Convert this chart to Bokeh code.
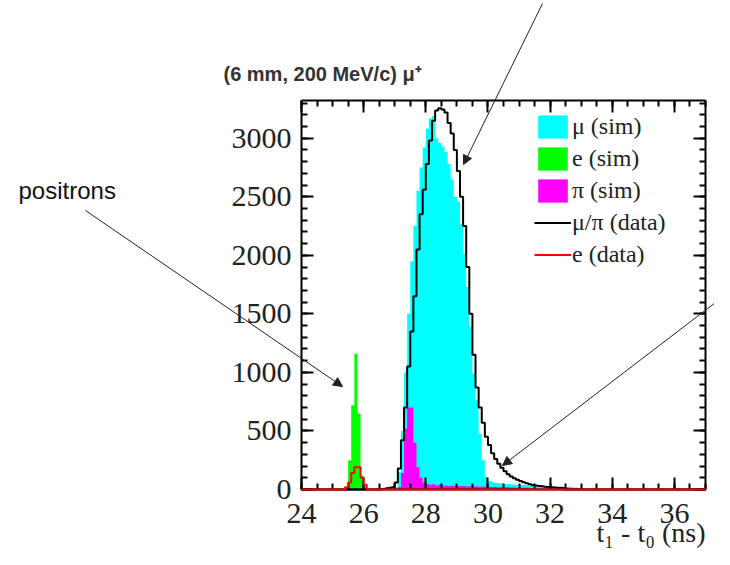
import numpy as np
from bokeh.plotting import figure
from bokeh.models import (Range1d, LinearAxis, SingleIntervalTicker, Legend, LegendItem,
                          Label, Arrow, NormalHead)
from bokeh.embed import file_html
from bokeh.resources import INLINE

# ---------------- data (counts per 0.1 ns bin) ----------------
BIN_WIDTH = 0.1
X_MIN, X_MAX = 24.0, 37.0
Y_MAX = 3322
x_ticks = [24, 26, 28, 30, 32, 34, 36]
y_ticks = [0, 500, 1000, 1500, 2000, 2500, 3000]

mu_sim_start = 27.0
mu_sim = [20, 150, 500, 1000, 1500, 1950, 2250, 2550, 2750, 2920,
          3080, 3170, 3190, 3000, 2960, 2930, 2880, 2780, 2650, 2500,
          2460, 2270, 2013, 1730, 1390, 990, 760, 475, 250, 105,
          75, 65, 58, 54, 50, 48, 46, 44, 42, 40,
          40, 38, 36, 35, 33, 32, 30, 28, 26, 24]

pi_sim_start = 27.1
pi_sim = [20, 140, 520, 700, 700, 400, 190, 100, 60, 45,
          40, 45, 35, 40, 30, 35, 30, 32, 28, 30,
          28, 30, 26, 28, 25, 27, 24, 25, 22, 24,
          22, 22, 20, 21, 19, 20, 18, 18, 16, 15,
          14, 14, 10, 8, 8, 6, 6, 6, 6, 6,
          18, 20, 20, 18, 20, 18, 16, 14]

e_sim_start = 25.5
e_sim = [250, 720, 1160, 650, 120, 30]

mupi_data_start = 26.6
mupi_data = [5, 10, 15, 20, 60, 180, 420, 700, 1050, 1350,
             1650, 2050, 2350, 2560, 2780, 2980, 3150, 3237, 3255, 3245,
             3220, 3130, 3040, 2900, 2720, 2500, 2250, 1900, 1500, 1150,
             870, 700, 570, 450, 380, 310, 260, 220, 185, 155,
             130, 112, 97, 84, 72, 62, 53, 45, 39, 34,
             30, 27, 24, 22, 20, 18, 16, 14, 12]

e_data_start = 25.4
e_data = [20, 60, 140, 190, 190, 100, 40]

legend_labels = ["\u03bc (sim)", "e (sim)", "\u03c0 (sim)", "\u03bc/\u03c0 (data)", "e (data)"]

# ---------------- helpers ----------------
n_bins = int(round((X_MAX - X_MIN) / BIN_WIDTH))
edges = X_MIN + BIN_WIDTH * np.arange(n_bins + 1)


def full(start, vals):
    arr = np.zeros(n_bins)
    i0 = int(round((start - X_MIN) / BIN_WIDTH))
    arr[i0:i0 + len(vals)] = vals
    return np.append(arr, arr[-1])


def filled(p, start, vals, color):
    return p.varea_step(x=edges, y1=np.zeros(len(edges)), y2=full(start, vals),
                        step_mode="after", fill_color=color)


def step(p, start, vals, color):
    return p.step(x=edges, y=full(start, vals), mode="after", line_color=color, line_width=2)


# canvas geometry: the plot box occupies these pixels of the canvas
W, H = 714, 549
BL, BR, BT, BB = 301, 705, 100, 489


def dx(px):
    return X_MIN + (px - BL) / (BR - BL) * (X_MAX - X_MIN)


def dy(py):
    return (BB - py) / (BB - BT) * Y_MAX


# the frame is the whole canvas so that texts and arrows outside the box are not clipped
p = figure(width=W, height=H, output_backend="svg", toolbar_location=None,
           x_range=Range1d(dx(0), dx(W)), y_range=Range1d(dy(H), dy(0)),
           min_border=0, min_border_left=0, min_border_right=0,
           min_border_top=0, min_border_bottom=0,
           x_axis_location=None, y_axis_location=None)
p.xgrid.visible = False
p.ygrid.visible = False
p.outline_line_color = None
p.background_fill_color = "white"
p.border_fill_color = "white"

FONT_SERIF = "Liberation Serif"


def make_axis(kind, loc, fixed, labels):
    if kind == "x":
        tk = SingleIntervalTicker(interval=2, num_minor_ticks=4)
        bounds = (X_MIN, X_MAX)
    else:
        tk = SingleIntervalTicker(interval=500, num_minor_ticks=5)
        bounds = (0, Y_MAX)
    ax = LinearAxis(ticker=tk, fixed_location=fixed, bounds=bounds)
    ax.axis_line_width = 2
    ax.axis_line_color = "black"
    ax.major_tick_in = 12
    ax.major_tick_out = 0
    ax.minor_tick_in = 6
    ax.minor_tick_out = 0
    ax.major_tick_line_width = 2
    ax.minor_tick_line_width = 2
    if labels:
        ax.major_label_text_font = FONT_SERIF
        ax.major_label_text_font_size = "30px"
        ax.major_label_text_color = "#222222"
        ax.major_label_standoff = 14 if kind == "x" else 10
    else:
        ax.major_label_text_font_size = "0px"
        ax.major_label_text_alpha = 0
        ax.major_label_standoff = 0
    p.add_layout(ax, loc)
    return ax


make_axis("x", "below", 0, True)
make_axis("y", "left", X_MIN, True)
make_axis("x", "above", Y_MAX, False)
make_axis("y", "right", X_MAX, False)

r_mu = filled(p, mu_sim_start, mu_sim, "#00FFFF")
r_pi = filled(p, pi_sim_start, pi_sim, "#FF00FF")
r_e = filled(p, e_sim_start, e_sim, "#00FF00")
r_mupi = step(p, mupi_data_start, mupi_data, "black")
r_ed = step(p, e_data_start, e_data, "#FF0000")
r_ed.level = "overlay"   # drawn over the frame line, as in the original

GLYPH_H, SPACING = 29, 3
LEG_LEFT, LEG_TOP = 534, 112
leg_h = 5 * GLYPH_H + 4 * SPACING
legend = Legend(items=[LegendItem(label=lab, renderers=[r]) for lab, r in
                       zip(legend_labels, [r_mu, r_e, r_pi, r_mupi, r_ed])],
                location=(LEG_LEFT, H - (LEG_TOP + leg_h)))
legend.glyph_width = 37
legend.glyph_height = GLYPH_H
legend.spacing = SPACING
legend.label_standoff = 1
legend.padding = 0
legend.margin = 0
legend.border_line_alpha = 0
legend.background_fill_alpha = 0
legend.label_text_font = FONT_SERIF
legend.label_text_font_size = "24px"
legend.label_text_color = "#222222"
p.add_layout(legend)

# annotations (text boxes positioned by their bottom edge)
p.add_layout(Label(x=dx(223), y=dy(84), text="(6 mm, 200 MeV/c) \u03bc\u207a",
                   text_font="Liberation Sans", text_font_style="bold",
                   text_font_size="20px", text_color="#333333"))
p.add_layout(Label(x=dx(18), y=dy(203), text="positrons",
                   text_font="Liberation Sans", text_font_size="24px",
                   text_color="#111111"))
p.add_layout(Label(x=dx(705), y=dy(547), text="t\u2081 - t\u2080 (ns)",
                   text_font=FONT_SERIF, text_font_size="28px",
                   text_align="right", text_color="#222222"))

for (x0, y0, x1, y1) in [(542, 3, 463, 164), (732, 289, 502, 465), (85, 210, 342, 386)]:
    p.add_layout(Arrow(x_start=dx(x0), y_start=dy(y0), x_end=dx(x1), y_end=dy(y1),
                       line_width=1, line_color="#222222",
                       end=NormalHead(size=9, fill_color="#222222", line_color="#222222")))

open("out.html", "w").write(file_html(p, INLINE))
